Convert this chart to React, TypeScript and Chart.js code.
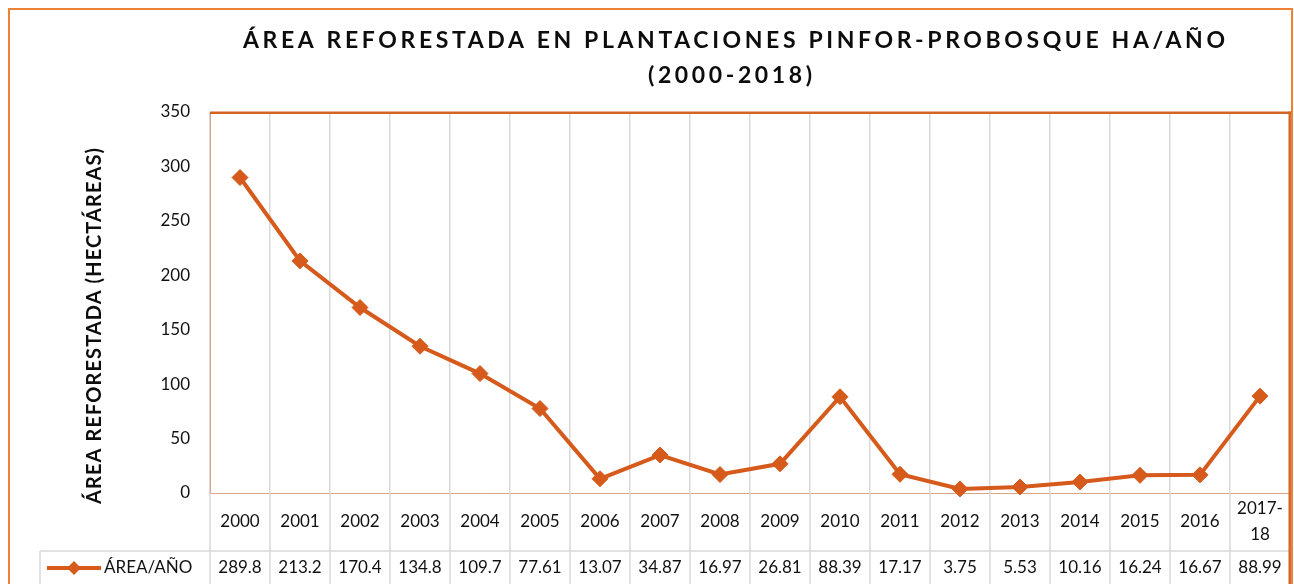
import React, { useEffect, useRef } from 'react';
import { Chart, registerables } from 'chart.js';

Chart.register(...registerables);

const categories = ['2000', '2001', '2002', '2003', '2004', '2005', '2006', '2007', '2008', '2009', '2010', '2011', '2012', '2013', '2014', '2015', '2016', '2017-18'];
const tableYearLabels = [['2000'], ['2001'], ['2002'], ['2003'], ['2004'], ['2005'], ['2006'], ['2007'], ['2008'], ['2009'], ['2010'], ['2011'], ['2012'], ['2013'], ['2014'], ['2015'], ['2016'], ['2017-', '18']];
const areaValues = [289.8, 213.2, 170.4, 134.8, 109.7, 77.61, 13.07, 34.87, 16.97, 26.81, 88.39, 17.17, 3.75, 5.53, 10.16, 16.24, 16.67, 88.99];
const valueLabels = ['289.8', '213.2', '170.4', '134.8', '109.7', '77.61', '13.07', '34.87', '16.97', '26.81', '88.39', '17.17', '3.75', '5.53', '10.16', '16.24', '16.67', '88.99'];
const yMin = 0;
const yMax = 350;
const yStep = 50;
const seriesName = 'ÁREA/AÑO';
const titleLines = ['ÁREA REFORESTADA EN PLANTACIONES PINFOR-PROBOSQUE HA/AÑO', '(2000-2018)'];
const yAxisTitle = 'ÁREA REFORESTADA (HECTÁREAS)';

const W = 1286;
const H = 600;
const LINE_COLOR = '#D55A1B';
const PLOT_BORDER = '#D46426';
const FRAME_COLOR = '#EE8236';
const GRID_COLOR = '#D9D9D9';
const AXIS_LINE = '#D9A384';
const FONT = 'Lato, "Open Sans", sans-serif';

function drawSpaced(ctx: CanvasRenderingContext2D, text: string, cx: number, cy: number, targetWidth: number) {
  (ctx as any).letterSpacing = '0px';
  const base = ctx.measureText(text).width;
  const n = Math.max(text.length - 1, 1);
  const sp = Math.max(0, (targetWidth - base) / n);
  (ctx as any).letterSpacing = sp + 'px';
  const w = base + sp * n;
  ctx.textAlign = 'left';
  ctx.fillText(text, cx - w / 2, cy);
  (ctx as any).letterSpacing = '0px';
  return sp;
}

const decorPlugin = {
  id: 'decor',
  beforeDraw(chart: any) {
    const ctx: CanvasRenderingContext2D = chart.ctx;
    ctx.save();
    ctx.fillStyle = '#ffffff';
    ctx.fillRect(0, 0, chart.width, chart.height);
    ctx.strokeStyle = FRAME_COLOR;
    ctx.lineWidth = 2;
    ctx.strokeRect(1, 1, 1283, chart.height + 20);
    ctx.restore();
  },
  afterDraw(chart: any) {
    const ctx: CanvasRenderingContext2D = chart.ctx;
    const { left, right, top, bottom } = chart.chartArea;
    const xs = chart.scales.x;
    const n = categories.length;
    const half = (right - left) / n / 2;
    ctx.save();

    // Title
    ctx.fillStyle = '#0D0D0D';
    ctx.textBaseline = 'middle';
    ctx.font = `bold 23px ${FONT}`;
    const sp = drawSpaced(ctx, titleLines[0], 726, 33, 982);
    (ctx as any).letterSpacing = '0px';
    const base2 = ctx.measureText(titleLines[1]).width;
    const w2 = base2 + sp * (titleLines[1].length - 1);
    drawSpaced(ctx, titleLines[1], 722, 68, w2);

    // Y axis title
    ctx.save();
    ctx.translate(87, 318);
    ctx.rotate(-Math.PI / 2);
    ctx.font = `bold 20px ${FONT}`;
    ctx.fillStyle = '#0D0D0D';
    drawSpaced(ctx, yAxisTitle, 0, 0, 356);
    ctx.restore();

    // Table grid
    const sepY = 543;
    ctx.strokeStyle = GRID_COLOR;
    ctx.lineWidth = 1.5;
    ctx.beginPath();
    for (let i = 0; i <= n; i++) {
      const x = i < n ? xs.getPixelForValue(i) - half : xs.getPixelForValue(n - 1) + half;
      ctx.moveTo(x, bottom);
      ctx.lineTo(x, chart.height);
    }
    ctx.moveTo(32, sepY);
    ctx.lineTo(right, sepY);
    ctx.moveTo(32, sepY);
    ctx.lineTo(32, chart.height);
    ctx.stroke();

    // Table text
    ctx.fillStyle = '#111111';
    ctx.font = `17px ${FONT}`;
    ctx.textAlign = 'center';
    ctx.textBaseline = 'middle';
    for (let i = 0; i < n; i++) {
      const cx = xs.getPixelForValue(i);
      const lines = tableYearLabels[i];
      if (lines.length === 1) {
        ctx.fillText(lines[0], cx, 514);
      } else {
        ctx.fillText(lines[0], cx, 501);
        ctx.fillText(lines[1], cx, 527);
      }
      ctx.fillText(valueLabels[i], cx, 560);
    }

    // Legend key in table
    ctx.strokeStyle = LINE_COLOR;
    ctx.lineWidth = 4;
    ctx.beginPath();
    ctx.moveTo(39, 560);
    ctx.lineTo(93, 560);
    ctx.stroke();
    ctx.fillStyle = LINE_COLOR;
    ctx.beginPath();
    ctx.moveTo(66 - 7, 560);
    ctx.lineTo(66, 560 - 7);
    ctx.lineTo(66 + 7, 560);
    ctx.lineTo(66, 560 + 7);
    ctx.closePath();
    ctx.fill();
    ctx.fillStyle = '#111111';
    ctx.textAlign = 'left';
    ctx.fillText(seriesName, 96, 560);

    // Plot borders
    ctx.fillStyle = PLOT_BORDER;
    ctx.fillRect(left, top - 0.5, right - left + 1, 2.5);
    ctx.fillRect(right - 1.5, top - 0.5, 2.4, chart.height);

    ctx.restore();
  },
};

export default function App() {
  const canvasRef = useRef<HTMLCanvasElement | null>(null);

  useEffect(() => {
    if (!canvasRef.current) return;
    const chart = new Chart(canvasRef.current, {
      type: 'line',
      data: {
        labels: categories,
        datasets: [
          {
            label: seriesName,
            data: areaValues,
            borderColor: LINE_COLOR,
            backgroundColor: LINE_COLOR,
            borderWidth: 4,
            pointStyle: 'rectRot',
            pointRadius: 8,
            pointBorderWidth: 1,
            pointBackgroundColor: LINE_COLOR,
            pointBorderColor: LINE_COLOR,
            tension: 0,
            clip: false as any,
          },
        ],
      },
      options: {
        responsive: false,
        animation: false,
        devicePixelRatio: 1,
        events: [],
        layout: { autoPadding: false, padding: { left: 100, top: 104, right: 4, bottom: 0 } },
        plugins: {
          legend: { display: false },
          title: { display: false },
          tooltip: { enabled: false },
        },
        scales: {
          x: {
            type: 'category',
            offset: true,
            grid: { offset: true, color: GRID_COLOR, lineWidth: 1.5, drawTicks: false },
            border: { display: true, color: AXIS_LINE, width: 1 },
            ticks: { display: false },
            afterFit: (s: any) => {
              s.height = 115;
            },
          },
          y: {
            min: yMin,
            max: yMax,
            ticks: {
              stepSize: yStep,
              padding: 20,
              color: '#111111',
              font: { family: FONT, size: 17 },
            },
            grid: { display: false, drawTicks: false },
            border: { display: true, color: AXIS_LINE, width: 1 },
            afterFit: (s: any) => {
              s.width = 102;
            },
          },
        },
      },
      plugins: [decorPlugin],
    });
    return () => chart.destroy();
  }, []);

  return (
    <div style={{ position: 'fixed', left: 8, top: 8, width: W, height: 576, overflow: 'hidden', background: '#fff' }}>
      <canvas ref={canvasRef} width={W} height={H} style={{ width: W, height: H, display: 'block' }} />
    </div>
  );
}
